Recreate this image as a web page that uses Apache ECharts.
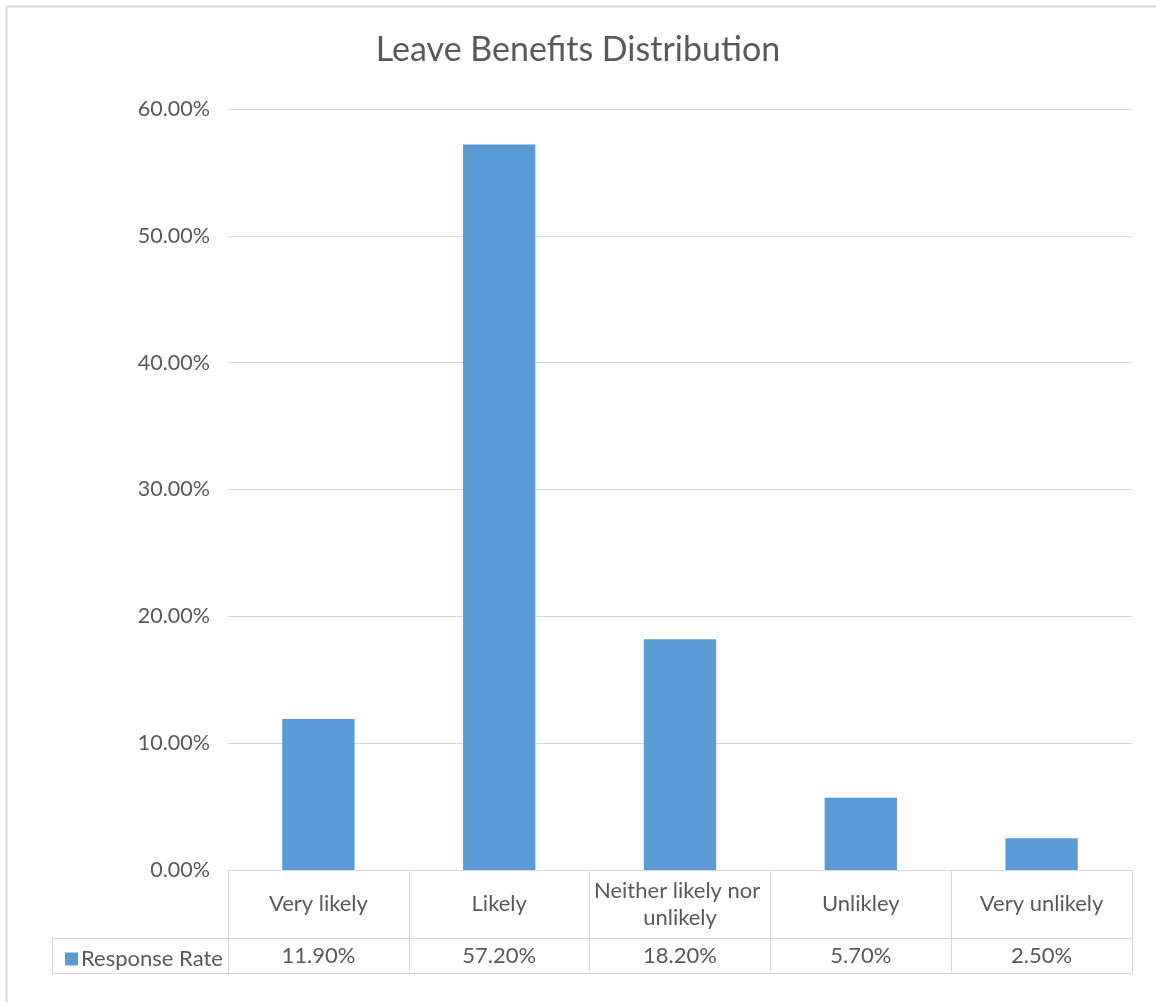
<!DOCTYPE html>
<html><head><meta charset="utf-8">
<style>html,body{margin:0;padding:0;background:#fff}#c{width:1156px;height:1002px}</style>
<script src="https://cdn.jsdelivr.net/npm/echarts@6/dist/echarts.min.js"></script>
</head><body><div id="c"></div>
<script>
const categories = ['Very likely', 'Likely', 'Neither likely nor unlikely', 'Unlikley', 'Very unlikely'];
const responseRate = [11.9, 57.2, 18.2, 5.7, 2.5];
const seriesName = 'Response Rate';
const titleText = 'Leave Benefits Distribution';

const FONT = 'Lato';
const TXT = '#595959';
const LINE = '#d9d9d9';
const chart = echarts.init(document.getElementById('c'), null, {renderer: 'canvas'});
const valueLabels = responseRate.map(v => v.toFixed(2) + '%');

chart.setOption({
  animation: false,
  backgroundColor: '#fff',
  title: {
    text: titleText, left: 'center', top: 28, padding: [5, 5, 5, 16],
    textStyle: {fontFamily: FONT, fontSize: 34, fontWeight: 'normal', color: TXT}
  },
  legend: {
    left: 60, top: 943, itemWidth: 13, itemHeight: 13, itemGap: 5,
    icon: 'rect',
    textStyle: {fontFamily: FONT, fontSize: 22, color: TXT, padding: [0, 0, 0, -2]},
    data: [seriesName]
  },
  grid: {left: 228, right: 24, top: 109, bottom: 132, containLabel: false},
  xAxis: [{
    type: 'category', data: categories, position: 'bottom',
    axisLine: {show: true, lineStyle: {color: LINE, width: 1}},
    axisTick: {show: true, length: 103, inside: false, lineStyle: {color: LINE}},
    axisLabel: {
      interval: 0, margin: 34, verticalAlign: 'middle', width: 174, overflow: 'break',
      fontFamily: FONT, fontSize: 22, color: TXT, lineHeight: 27, align: 'center'
    }
  }, {
    type: 'category', data: valueLabels, position: 'bottom', offset: 68,
    axisLine: {show: true, lineStyle: {color: LINE, width: 1}},
    axisTick: {show: false},
    axisLabel: {interval: 0, margin: 18, verticalAlign: 'middle', fontFamily: FONT, fontSize: 22, color: TXT}
  }],
  yAxis: {
    type: 'value', min: 0, max: 60, interval: 10,
    axisLine: {show: false}, axisTick: {show: false},
    splitLine: {lineStyle: {color: LINE, width: 1}},
    axisLabel: {formatter: v => v.toFixed(2) + '%', margin: 18, fontFamily: FONT, fontSize: 21.5, color: TXT}
  },
  series: [{
    name: seriesName, type: 'bar', data: responseRate, barWidth: '40%',
    itemStyle: {color: '#5b9bd5'}, xAxisIndex: 0
  }],
  graphic: [
    {type: 'rect', silent: true, z: -1, shape: {x: 6.5, y: 6.5, width: 1170, height: 1020}, style: {fill: 'none', stroke: LINE, lineWidth: 2}},
    {type: 'line', silent: true, shape: {x1: 52, y1: 938.5, x2: 228, y2: 938.5}, style: {stroke: LINE, lineWidth: 1}},
    {type: 'line', silent: true, shape: {x1: 52, y1: 973.5, x2: 1132, y2: 973.5}, style: {stroke: LINE, lineWidth: 1}},
    {type: 'line', silent: true, shape: {x1: 52.5, y1: 938, x2: 52.5, y2: 974}, style: {stroke: LINE, lineWidth: 1}}
  ]
});
</script></body></html>
